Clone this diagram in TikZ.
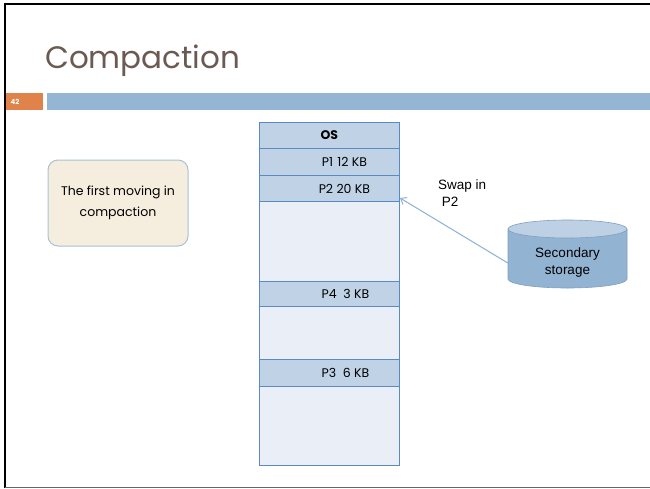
\documentclass[tikz,border=0pt]{standalone}
\usepackage{fontspec}
\setmainfont{Poppins}
\newfontfamily\arialfont{Liberation Sans}
\usetikzlibrary{arrows.meta}
\definecolor{titlebrown}{HTML}{6B5A52}
\definecolor{barblue}{HTML}{95B5D4}
\definecolor{barorange}{HTML}{E0834A}
\definecolor{rowdark}{HTML}{C0D3E6}
\definecolor{rowlight}{HTML}{E9EEF7}
\definecolor{rowline}{HTML}{5A8AC2}
\definecolor{notefill}{HTML}{F5EEDF}
\definecolor{noteline}{HTML}{A8C0D8}
\definecolor{cylfill}{HTML}{93B3D2}
\definecolor{cyltop}{HTML}{BDD0E4}
\definecolor{cylline}{HTML}{7F9FC0}
\definecolor{arrowblue}{HTML}{8DB0D6}
\tikzset{
  memrow/.style={draw=rowline, line width=0.8pt, minimum width=140pt, inner sep=0pt, anchor=north west, font=\fontsize{12.5}{14}\selectfont},
  full/.style={memrow, fill=rowdark},
  empty/.style={memrow, fill=rowlight},
}
\begin{document}
\begin{tikzpicture}[x=1pt,y=-1pt]
\useasboundingbox (0,0) rectangle (650,488);
\fill[white] (0,0) rectangle (650,488);
% frame
\draw[black, line width=2.5pt] (5,488) -- (5,4) -- (650,4);
\draw[gray!80!black, line width=1pt] (5,487.5) -- (650,487.5);
% title
\node[anchor=base west, text=titlebrown, font=\fontsize{31}{34}\selectfont, inner sep=0pt] (title) at (45,68) {Compaction};
% bar
\fill[barorange] (6,93) rectangle (43,110);
\node[text=white, font=\bfseries\fontsize{7}{8}\selectfont, inner sep=0pt] (num) at (15,101.5) {42};
\fill[barblue] (47,93) rectangle (650,110);
% memory table
\node[full, minimum height=26pt] (os) at (259,122) {\textbf{OS}};
\node[full, minimum height=27pt] (p1) at (259,148) {\hspace*{30pt}P1\,\,12 KB};
\node[full, minimum height=26pt] (p2) at (259,175) {\hspace*{30pt}P2 20 KB};
\node[empty, minimum height=80pt] (e1) at (259,201) {};
\node[full, minimum height=25pt] (p4) at (259,281) {\hspace*{32pt}P4\ \ 3 KB};
\node[empty, minimum height=53pt] (e2) at (259,306) {};
\node[full, minimum height=27pt] (p3) at (259,359) {\hspace*{32pt}P3\ \ 6 KB};
\node[empty, minimum height=79pt] (e3) at (259,386) {};
% note
\node[draw=noteline, fill=notefill, rounded corners=10pt, line width=1pt, minimum width=140pt, minimum height=86pt, align=center, font=\fontsize{12.5}{21}\selectfont] (note) at (118,203) {The first moving in\\compaction};
% cylinder
\fill[cylfill, draw=cylline, line width=0.6pt] (508,229) -- (508,279) arc[start angle=180, end angle=360, x radius=59.5pt, y radius=9pt] -- (627,229);
\draw[cylline, line width=0.6pt, fill=cyltop] (567.5,229) ellipse[x radius=59.5pt, y radius=9pt];
\node[font=\arialfont\fontsize{13.5}{17}\selectfont, align=center, inner sep=0pt, minimum width=119pt, minimum height=40pt] (storage) at (567.5,263) {Secondary\\storage};
% arrow
\coordinate (tip) at (400,198);
\draw[arrowblue, line width=1pt, -{Straight Barb[length=5pt,width=8pt]}] (storage.west) -- (tip);
\node[anchor=north west, font=\arialfont\fontsize{13.5}{17}\selectfont, align=left, inner sep=0pt] (swap) at (438,180) {Swap in\\\ P2};
\end{tikzpicture}
\end{document}
